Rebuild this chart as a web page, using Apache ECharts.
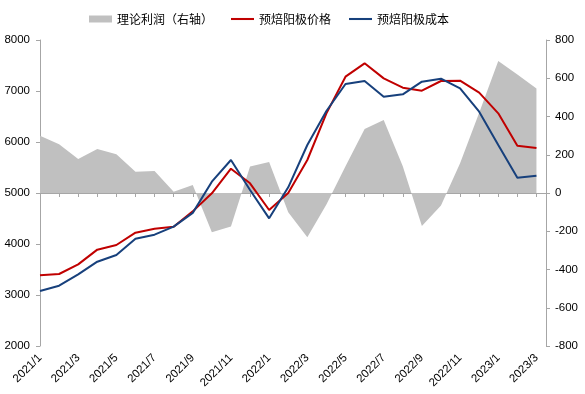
<!DOCTYPE html>
<html>
<head>
<meta charset="utf-8">
<script src="https://cdn.jsdelivr.net/npm/echarts@6/dist/echarts.min.js"></script>
<style>html,body{margin:0;padding:0;background:#fff}#c{width:585px;height:394px}</style>
</head>
<body>
<div id="c"></div>
<script>
const categories = ['2021/1','2021/2','2021/3','2021/4','2021/5','2021/6','2021/7','2021/8','2021/9','2021/10','2021/11','2021/12',
  '2022/1','2022/2','2022/3','2022/4','2022/5','2022/6','2022/7','2022/8','2022/9','2022/10','2022/11','2022/12',
  '2023/1','2023/2','2023/3'];
const profit = [300,255,178,230,202,111,115,7,42,-205,-175,138,162,-100,-232,-60,140,335,382,140,-172,-66,155,420,690,620,547];
const price = [3386,3412,3601,3889,3980,4222,4300,4340,4640,4994,5477,5190,4667,5000,5647,6562,7281,7543,7248,7065,7006,7196,7203,6967,6562,5928,5882];
const cost = [3078,3183,3405,3653,3784,4104,4183,4340,4610,5222,5647,5059,4503,5111,5941,6608,7137,7196,6889,6935,7183,7242,7052,6594,5941,5300,5340];
const leftTicks = [2000, 8000, 1000];
const rightTicks = [-800, 800, 200];
const names = ['理论利润（右轴）','预焙阳极价格','预焙阳极成本'];

const pair = arr => arr.map((v, i) => [i, v]);
const axisGray = '#a6a6a6';
const font = 'Liberation Sans';
const lineIcon = 'path://M0,0L100,0L100,9L0,9Z';
const chart = echarts.init(document.getElementById('c'), null, {renderer: 'canvas'});
chart.setOption({
  animation: false,
  backgroundColor: '#fff',
  textStyle: {fontFamily: font},
  legend: {
    top: 8, left: 84, itemGap: 18, itemWidth: 23, itemHeight: 7,
    textStyle: {fontFamily: 'Noto Sans CJK SC', fontSize: 12, color: '#000'},
    data: [{name: names[0], icon: 'rect'}, {name: names[1], icon: lineIcon}, {name: names[2], icon: lineIcon}]
  },
  grid: {left: 40, right: 39, top: 40, bottom: 48},
  xAxis: {
    type: 'value', min: 0, max: categories.length - 0.5, interval: 1,
    splitLine: {show: false},
    axisLine: {lineStyle: {color: axisGray}},
    axisTick: {show: true, length: 4, lineStyle: {color: axisGray}},
    axisLabel: {
      rotate: 45, margin: 10, fontSize: 11.5, color: '#000', fontFamily: font,
      showMaxLabel: false,
      formatter: v => (Number.isInteger(v) && v % 2 === 0 && categories[v]) ? categories[v] : ''
    }
  },
  yAxis: [
    {
      type: 'value', min: leftTicks[0], max: leftTicks[1], interval: leftTicks[2],
      splitLine: {show: false},
      axisLine: {show: true, lineStyle: {color: axisGray}},
      axisTick: {show: true, length: 4, lineStyle: {color: axisGray}},
      axisLabel: {fontSize: 11.5, color: '#000', margin: 10, fontFamily: font, formatter: v => String(v)}
    },
    {
      type: 'value', position: 'right', min: rightTicks[0], max: rightTicks[1], interval: rightTicks[2],
      splitLine: {show: false},
      axisLine: {show: true, lineStyle: {color: axisGray}},
      axisTick: {show: true, length: 4, lineStyle: {color: axisGray}},
      axisLabel: {fontSize: 11.5, color: '#000', margin: 9, fontFamily: font, formatter: v => String(v)}
    }
  ],
  series: [
    {
      name: names[0], type: 'line', yAxisIndex: 1, data: pair(profit),
      symbol: 'none', lineStyle: {width: 0}, itemStyle: {color: '#c0c0c0'},
      areaStyle: {color: '#c0c0c0', opacity: 1, origin: 0}, z: 1
    },
    {
      name: names[1], type: 'line', yAxisIndex: 0, data: pair(price),
      symbol: 'none', lineStyle: {width: 2, color: '#C00000'}, itemStyle: {color: '#C00000'}, z: 3
    },
    {
      name: names[2], type: 'line', yAxisIndex: 0, data: pair(cost),
      symbol: 'none', lineStyle: {width: 2, color: '#17407C'}, itemStyle: {color: '#17407C'}, z: 4
    }
  ]
});
</script>
</body>
</html>
